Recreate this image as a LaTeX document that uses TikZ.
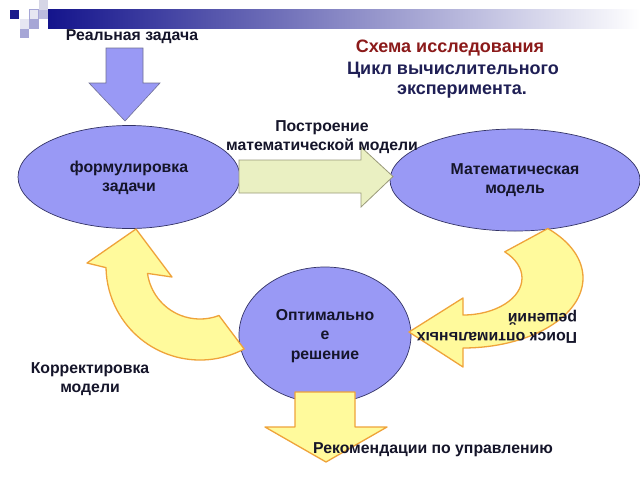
\documentclass[tikz,border=0pt]{standalone}
\usepackage{fontspec}
\setmainfont{Liberation Sans}
\usetikzlibrary{positioning, shapes.geometric}

\definecolor{bandnavy}{HTML}{14148C}
\definecolor{sqnavy}{HTML}{1A1A8C}
\definecolor{sqpale}{HTML}{E6E6F2}
\definecolor{sqgrey}{HTML}{D6D6E6}
\definecolor{sqlight}{HTML}{BCBCDE}
\definecolor{sqmid}{HTML}{A6A6D6}
\definecolor{ovalfill}{HTML}{9999F5}
\definecolor{ovalline}{HTML}{333366}
\definecolor{yfill}{HTML}{FFFA9C}
\definecolor{yline}{HTML}{EFA33A}
\definecolor{gfill}{HTML}{EAF0C2}
\definecolor{gline}{HTML}{9A9A7A}
\definecolor{titlered}{HTML}{8B1A1A}
\definecolor{titlenavy}{HTML}{1F1F55}
\definecolor{txtdark}{HTML}{15152A}

\begin{document}
\begin{tikzpicture}[x=1pt, y=-1pt,
    every node/.style={font=\bfseries\fontsize{15.8}{19.5}\selectfont, text=txtdark, align=center, inner sep=0pt},
    oval/.style={draw=ovalline, fill=ovalfill, line width=0.7pt, ellipse},
    title/.style={font=\bfseries\fontsize{18}{22}\selectfont},
    yarrow/.style={draw=yline, fill=yfill, line width=1.3pt, line join=round},
    barrow/.style={draw=ovalline!70, fill=ovalfill, line width=0.6pt},
    garrow/.style={draw=gline, fill=gfill, line width=0.8pt}]
    \useasboundingbox (0,0) rectangle (640,480);
    \fill[white] (0,0) rectangle (640,480);

    % Header band and squares
    \shade[left color=bandnavy, right color=white] (48,9.5) rectangle (640,28);
    \fill[sqnavy] (9.5,9.5) rectangle ++(9.5,9.5);
    \filldraw[fill=sqpale, draw=sqmid, line width=0.4pt] (29,9.5) rectangle ++(9.5,9.5);
    \fill[sqgrey] (38.5,0) rectangle ++(9.5,9.5);
    \fill[sqlight] (38.5,9.5) rectangle ++(9.5,9.5);
    \fill[sqpale] (19.5,19) rectangle ++(9.5,9.5);
    \fill[sqmid] (29,19) rectangle ++(9.5,9.5);
    \fill[sqmid] (19.5,28.5) rectangle ++(9.5,9.5);

    % Nodes
    \node (real) at (132,37) {Реальная задача};
    \node[title, text=titlered] (tA) at (450,48) {Схема исследования};
    \node[title, text=titlenavy] (tB) at (453,70) {Цикл вычислительного};
    \node[title, text=titlenavy] (tC) at (462,92) {эксперимента.};

    \node[oval, minimum width=222pt, minimum height=103pt] (task) at (129,177) {};
    \node[oval, minimum width=250pt, minimum height=102pt] (model) at (515,180) {};
    \node[oval, minimum width=172pt, minimum height=136pt] (opt) at (325,335) {};

    % Arrows
    \draw[barrow] (106,48) -- (143,48) -- (143,83) -- (160,83) -- (125,121) -- (89,83) -- (106,83) -- cycle;
    \draw[garrow] (239,160) -- (361,160) -- (361,147) -- (393,176.5) -- (361,207) -- (361,193) -- (239,193) -- cycle;
    \draw[yarrow] (200,266) ++(62:94) arc[start angle=62, end angle=179, radius=94]
        -- (87,263) -- (136,229) -- (172,277) -- (147.5,273.4)
        arc[start angle=172, end angle=69, radius=53] -- cycle;
    \draw[yarrow] (463,278) ++(-45:120 and 70) arc[start angle=-45, end angle=90, x radius=120, y radius=70]
        -- (463,367) -- (409,332) -- (463,298) -- (463,315)
        arc[start angle=90, end angle=-45, x radius=59, y radius=37] -- cycle;
    \draw[yarrow] (295,392) -- (355,392) -- (355,427) -- (387,427) -- (326,462) -- (265,427) -- (295,427) -- cycle;

    % Labels
    \node at (task.center) [yshift=-1pt] {формулировка\\задачи};
    \node at (model.center) [yshift=0pt] {Математическая\\модель};
    \node at (opt) [yshift=-1pt] {Оптимально\\е\\решение};
    \node (build) at (322,137) {Построение\\математической модели};
    \node (fix) at (90,379) {Корректировка\\модели};
    \node[rotate=180, align=left] (search) at (497,327) {Поиск оптимальных\\решений};
    \node (advice) at (433,450) {Рекомендации по управлению};
\end{tikzpicture}
\end{document}
